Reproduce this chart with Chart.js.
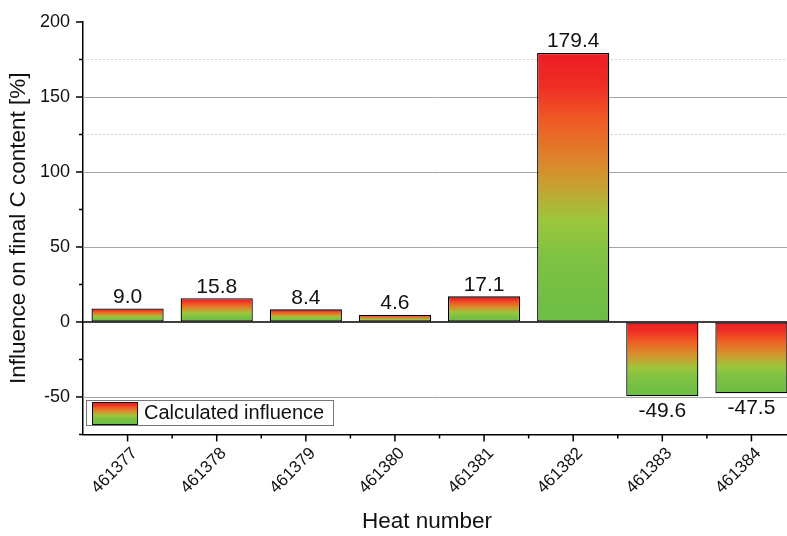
<!DOCTYPE html>
<html>
<head>
<meta charset="utf-8">
<script src="https://cdn.jsdelivr.net/npm/chart.js@4.4.1/dist/chart.umd.min.js"></script>
<style>
  html, body { margin: 0; padding: 0; background: #fff; overflow: hidden; }
  /* a área do gráfico original passa um pouco da borda direita */
  #wrap { width: 796px; height: 536px; position: relative; }
</style>
</head>
<body>
<div id="wrap"><canvas id="chart"></canvas></div>
<script>
// Dados
const heatNumbers = ['461377', '461378', '461379', '461380', '461381', '461382', '461383', '461384'];
const influence = [9.0, 15.8, 8.4, 4.6, 17.1, 179.4, -49.6, -47.5];
const majorTicks = [-50, 0, 50, 100, 150, 200];
const solidGrid = [-50, 50, 100, 150];
const dottedGrid = [125, 175];
const legendLabel = 'Calculated influence';
const xTitle = 'Heat number';

const FONT = '"Liberation Sans", Arial, sans-serif';

// Gradiente vermelho -> verde, de cima para baixo
function makeGradient(ctx, top, bottom) {
    const g = ctx.createLinearGradient(0, top, 0, bottom);
    g.addColorStop(0.0, '#ed1c24');
    g.addColorStop(0.12, '#ee2d24');
    g.addColorStop(0.25, '#f05a24');
    g.addColorStop(0.42, '#d98b2c');
    g.addColorStop(0.52, '#bfa833');
    g.addColorStop(0.62, '#9cc63b');
    g.addColorStop(0.75, '#80c242');
    g.addColorStop(1.0, '#6abd45');
    return g;
}

function barColor(context) {
    const chart = context.chart;
    if (!chart.chartArea) return '#6abd45';
    const v = influence[context.dataIndex];
    const y = chart.scales.y;
    const top = y.getPixelForValue(Math.max(v, 0));
    const bottom = y.getPixelForValue(Math.min(v, 0));
    return makeGradient(chart.ctx, top, bottom);
}

// Linhas de grade, marcas dos eixos, rótulos e legenda
const decorPlugin = {
    id: 'decor',
    beforeDatasetsDraw(chart) {
        const { ctx, chartArea, scales } = chart;
        ctx.save();
        ctx.lineWidth = 1;
        ctx.strokeStyle = '#a6a6a6';
        solidGrid.forEach(v => {
            const py = Math.round(scales.y.getPixelForValue(v)) + 0.5;
            ctx.beginPath();
            ctx.moveTo(chartArea.left, py);
            ctx.lineTo(chartArea.right, py);
            ctx.stroke();
        });
        ctx.strokeStyle = '#d0d0d0';
        ctx.setLineDash([2, 2]);
        dottedGrid.forEach(v => {
            const py = Math.round(scales.y.getPixelForValue(v)) + 0.5;
            ctx.beginPath();
            ctx.moveTo(chartArea.left, py);
            ctx.lineTo(chartArea.right, py);
            ctx.stroke();
        });
        ctx.setLineDash([]);
        ctx.strokeStyle = '#000';
        ctx.lineWidth = 1.5;
        const zy = scales.y.getPixelForValue(0);
        ctx.beginPath();
        ctx.moveTo(chartArea.left, zy);
        ctx.lineTo(chartArea.right, zy);
        ctx.stroke();
        ctx.restore();
    },
    afterDraw(chart) {
        const { ctx, chartArea, scales } = chart;
        ctx.save();
        ctx.strokeStyle = '#000';
        ctx.lineWidth = 1.5;

        // marcas do eixo y (maiores a cada 50, menores a cada 25)
        for (let v = -75; v <= 200; v += 25) {
            const py = scales.y.getPixelForValue(v);
            const len = majorTicks.includes(v) ? 7 : 4;
            ctx.beginPath();
            ctx.moveTo(chartArea.left, py);
            ctx.lineTo(chartArea.left - len, py);
            ctx.stroke();
        }
        // marcas do eixo x
        const half = (scales.x.getPixelForValue(1) - scales.x.getPixelForValue(0)) / 2;
        heatNumbers.forEach((_, i) => {
            const px = scales.x.getPixelForValue(i);
            ctx.beginPath();
            ctx.moveTo(px, chartArea.bottom);
            ctx.lineTo(px, chartArea.bottom + 7);
            ctx.stroke();
            ctx.beginPath();
            ctx.moveTo(px + half, chartArea.bottom);
            ctx.lineTo(px + half, chartArea.bottom + 4);
            ctx.stroke();
        });

        // rótulos de valor
        ctx.fillStyle = '#111';
        ctx.font = '21px ' + FONT;
        ctx.textAlign = 'center';
        const meta = chart.getDatasetMeta(0);
        meta.data.forEach((bar, i) => {
            const v = influence[i];
            if (v >= 0) {
                ctx.textBaseline = 'bottom';
                ctx.fillText(v.toFixed(1), bar.x, bar.y - 1);
            } else {
                ctx.textBaseline = 'top';
                ctx.fillText(v.toFixed(1), bar.x, bar.y + 4);
            }
        });

        // título do eixo x (centrado na parte visível)
        ctx.font = '22.5px ' + FONT;
        ctx.textBaseline = 'middle';
        ctx.fillText(xTitle, 427, 522);

        // legenda dentro da área do gráfico
        const lx = chartArea.left + 3, ly = 400, lw = 247, lh = 25;
        ctx.fillStyle = '#fff';
        ctx.fillRect(lx, ly, lw, lh);
        ctx.lineWidth = 1;
        ctx.strokeStyle = '#777';
        ctx.strokeRect(lx + 0.5, ly + 0.5, lw, lh);
        ctx.fillStyle = makeGradient(ctx, ly + 2, ly + lh - 1);
        ctx.fillRect(lx + 6, ly + 2, 45, lh - 3);
        ctx.strokeStyle = '#111';
        ctx.strokeRect(lx + 6.5, ly + 2.5, 45, lh - 3);
        ctx.fillStyle = '#111';
        ctx.font = '20px ' + FONT;
        ctx.textAlign = 'left';
        ctx.fillText(legendLabel, lx + 58, ly + lh / 2 + 1);
        ctx.restore();
    }
};

new Chart(document.getElementById('chart'), {
    type: 'bar',
    data: {
        labels: heatNumbers,
        datasets: [{
            label: legendLabel,
            data: influence,
            backgroundColor: barColor,
            borderColor: '#000',
            borderWidth: 1.3,
            borderSkipped: false,
            barPercentage: 0.81,
            categoryPercentage: 1
        }]
    },
    options: {
        responsive: true,
        maintainAspectRatio: false,
        animation: false,
        layout: { padding: { top: 22, right: 0, left: 5, bottom: 38 } },
        plugins: {
            legend: { display: false },
            tooltip: { enabled: false }
        },
        scales: {
            x: {
                grid: { drawOnChartArea: false, drawTicks: true, tickLength: 9, tickColor: 'rgba(0,0,0,0)' },
                border: { display: true, color: '#000', width: 1.5 },
                ticks: {
                    color: '#111',
                    font: { family: FONT, size: 17 },
                    minRotation: 45,
                    maxRotation: 45,
                    labelOffset: 7,
                    padding: 0
                },
                title: { display: false }
            },
            y: {
                min: -75,
                max: 200,
                grid: { drawOnChartArea: false, drawTicks: true, tickLength: 7, tickColor: 'rgba(0,0,0,0)' },
                border: { display: true, color: '#000', width: 1.5 },
                ticks: {
                    stepSize: 25,
                    color: '#111',
                    font: { family: FONT, size: 18 },
                    padding: 6,
                    callback: v => (majorTicks.includes(v) ? String(v) : '')
                },
                title: {
                    display: true,
                    text: 'Influence on final C content [%]',
                    color: '#111',
                    font: { family: FONT, size: 22.5 },
                    padding: { top: 0, bottom: 2 }
                }
            }
        }
    },
    plugins: [decorPlugin]
});
</script>
</body>
</html>
